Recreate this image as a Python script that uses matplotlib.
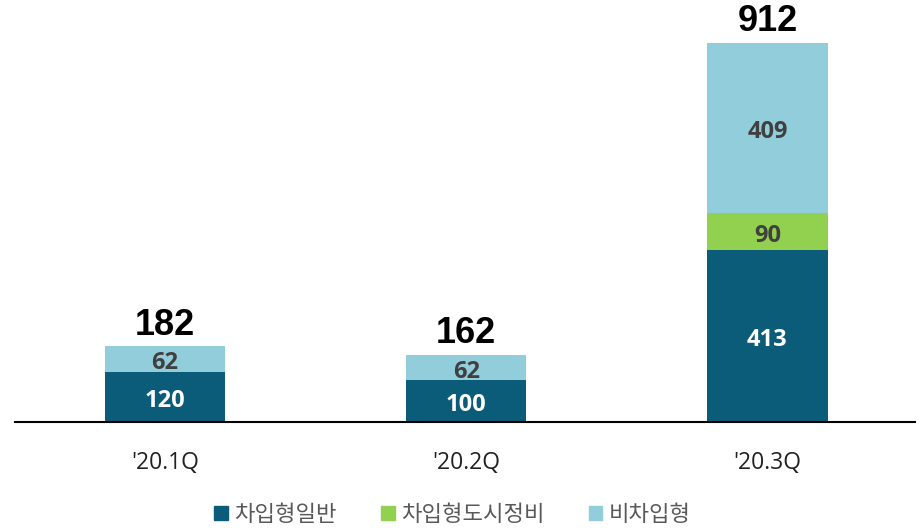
import matplotlib.pyplot as plt
from matplotlib.patches import Patch

categories = ["'20.1Q", "'20.2Q", "'20.3Q"]
series_names = ['차입형일반', '차입형도시정비', '비차입형']
general = [120, 100, 413]
urban = [0, 0, 90]
non_borrow = [62, 62, 409]
totals = [182, 162, 912]

colors = ['#0B5C78', '#92D050', '#92CDDC']
label_colors = ['white', '#404040', '#404040']

plt.rcParams['font.family'] = ['Noto Sans CJK KR', 'DejaVu Sans']

fig = plt.figure(figsize=(9.22, 5.28), dpi=100)
ax = fig.add_axes([15 / 922, 106 / 528, 900 / 922, 422 / 528])

x = list(range(len(categories)))
bottom = [0] * len(categories)
for vals, c, lc in zip([general, urban, non_borrow], colors, label_colors):
    ax.bar(x, vals, width=0.4, bottom=bottom, color=c, linewidth=0)
    for i, v in enumerate(vals):
        if v > 0:
            ax.annotate(str(v), (i, bottom[i] + v / 2), xytext=(0, -3),
                        textcoords='offset points', ha='center', va='center',
                        fontsize=17, fontweight='bold', color=lc, family='Open Sans')
    bottom = [b + v for b, v in zip(bottom, vals)]

for i, t in enumerate(totals):
    ax.text(i, t + 9, str(t), ha='center', va='bottom', fontsize=26,
            fontweight='bold', color='black', family='Liberation Sans')

ax.set_xlim(-0.498, 2.49)
ax.set_ylim(0, 1015)
ax.set_xticks(x)
ax.set_xticklabels(categories, fontsize=16.5, family='Open Sans', color='#222222')
ax.tick_params(axis='x', length=0, pad=21)
ax.set_yticks([])
for s in ['top', 'right', 'left']:
    ax.spines[s].set_visible(False)
ax.spines['bottom'].set_linewidth(1.5)

handles = [Patch(color=c) for c in colors]
fig.legend(handles, series_names, loc='center', bbox_to_anchor=(0.491, 0.026),
           ncol=3, frameon=False, fontsize=16, handlelength=0.6, handleheight=0.6,
           handletextpad=0.3, columnspacing=2.0, labelcolor='#595959')

fig.savefig('out.png', dpi=100)
